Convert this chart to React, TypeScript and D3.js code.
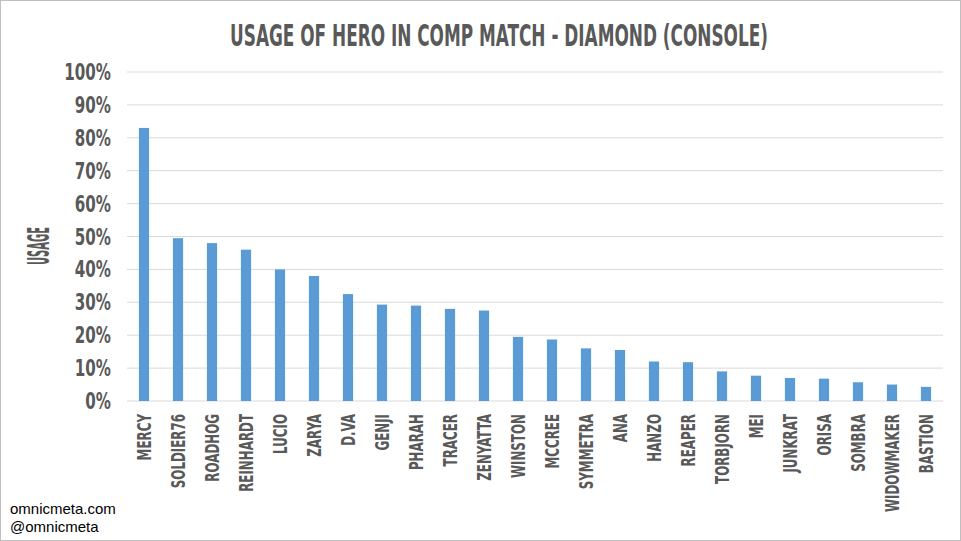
import React from 'react'
import * as d3 from 'd3'

const heroes = ['MERCY','SOLDIER76','ROADHOG','REINHARDT','LUCIO','ZARYA','D.VA','GENJI','PHARAH','TRACER','ZENYATTA','WINSTON','MCCREE','SYMMETRA','ANA','HANZO','REAPER','TORBJORN','MEI','JUNKRAT','ORISA','SOMBRA','WIDOWMAKER','BASTION']
const usage = [83, 49.5, 48, 46, 40, 38, 32.5, 29.3, 29, 28, 27.5, 19.5, 18.7, 16, 15.5, 12, 11.8, 9, 7.7, 7, 6.8, 5.7, 5, 4.3]
const ticks = [0, 10, 20, 30, 40, 50, 60, 70, 80, 90, 100]

const W = 961
const H = 541
const cond = '"DejaVu Sans Condensed", "DejaVu Sans", sans-serif'

export default function App() {
  const x = d3.scaleBand<string>().domain(heroes).range([127, 943]).paddingInner(0.7).paddingOuter(0.35)
  const y = d3.scaleLinear().domain([0, 100]).range([401, 72])

  return (
    <svg width={W} height={H} style={{ position: 'absolute', left: 0, top: 0 }}>
      <rect x={0.5} y={0.5} width={W - 1} height={H - 1} fill="#fff" stroke="#bfbfbf" />
      <text x={230} y={46} textLength={538} lengthAdjust="spacingAndGlyphs" fontFamily={cond} fontWeight="bold" fontSize={31} fill="#595959">
        USAGE OF HERO IN COMP MATCH - DIAMOND (CONSOLE)
      </text>
      {ticks.map((t) => (
        <g key={t}>
          <line x1={127} x2={943} y1={y(t)} y2={y(t)} stroke="#d9d9d9" />
          <text transform={`translate(111,${y(t) + 8}) scale(0.8,1.1)`} textAnchor="end" fontFamily={cond} fontWeight="bold" fontSize={21} fill="#595959">
            {t}%
          </text>
        </g>
      ))}
      <text transform="translate(49,265) rotate(-90)" textLength={38} lengthAdjust="spacingAndGlyphs" fontFamily={cond} fontWeight="bold" fontSize={30} fill="#595959">
        USAGE
      </text>
      {heroes.map((h, i) => (
        <g key={h}>
          <rect x={x(h)} y={y(usage[i])} width={x.bandwidth()} height={y(0) - y(usage[i])} fill="#5b9bd5" />
          <text
            transform={`translate(${(x(h) ?? 0) + x.bandwidth() / 2 + 7},414) rotate(-90) scale(0.66,1)`}
            textAnchor="end"
            fontFamily={cond}
            fontWeight="bold"
            fontSize={20}
            fill="#595959"
          >
            {h}
          </text>
        </g>
      ))}
      <text x={10} y={514} fontFamily="Liberation Sans, Arial, sans-serif" fontSize={15} fill="#000">omnicmeta.com</text>
      <text x={10} y={532} fontFamily="Liberation Sans, Arial, sans-serif" fontSize={15} fill="#000">@omnicmeta</text>
    </svg>
  )
}
